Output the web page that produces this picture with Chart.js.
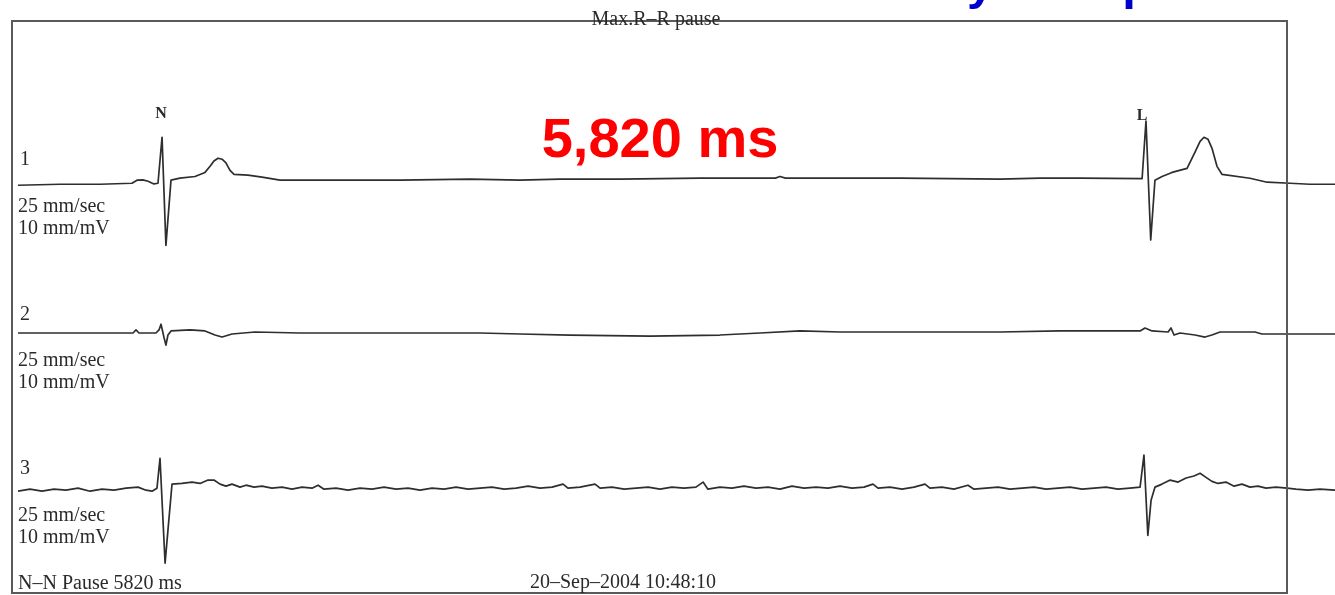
<!DOCTYPE html>
<html>
<head>
<meta charset="utf-8">
<title>Max R-R pause</title>
<script src="https://cdn.jsdelivr.net/npm/chart.js@4/dist/chart.umd.min.js"></script>
<style>
    html, body { margin: 0; padding: 0; background: #fff; overflow: hidden; }
    #wrap { width: 1335px; height: 595px; position: relative; }
</style>
</head>
<body>
<div id="wrap"><canvas id="ecgChart" width="1335" height="595"></canvas></div>
<script>
// Strip settings (25 mm/sec, 10 mm/mV)
const STRIP_MS = 7790;          // time span shown across the strip
const STRIP_MV = 8.8;           // vertical span of the strip in mV
const LEAD_OFFSETS = [6.09, 3.875, 1.55]; // baseline of each lead in mV from bottom
const PAUSE_MS = 5820;

// Lead 1: time (ms) and amplitude (mV)
const lead1Time = [0, 248, 485, 674, 704, 739, 769, 804, 828, 852, 875, 905, 958, 1047, 1106, 1136, 1159, 1183, 1207, 1230,
    1254, 1278, 1360, 1443, 1550, 1845, 2260, 2674, 2969, 3206, 3561, 4034, 4480, 4507, 4540, 4626, 5217, 5809, 6045, 6282,
    6649, 6672, 6700, 6725, 6767, 6826, 6870, 6915, 6962, 6992, 7015, 7039, 7062, 7092, 7122, 7287, 7388, 7524, 7642, 7790];
const lead1Mv = [-0.03, -0.015, -0.015, 0, 0.045, 0.05, 0.03, -0.01, 0, 0.68, -0.92, 0.045, 0.075, 0.1, 0.16, 0.25, 0.33, 0.37, 0.355, 0.3,
    0.19, 0.13, 0.12, 0.09, 0.045, 0.045, 0.045, 0.06, 0.045, 0.06, 0.06, 0.075, 0.075, 0.1, 0.075, 0.075, 0.075, 0.06, 0.075, 0.075,
    0.067, 0.92, -0.84, 0.045, 0.1, 0.16, 0.19, 0.22, 0.46, 0.62, 0.68, 0.65, 0.52, 0.25, 0.13, 0.074, 0.015, 0, -0.015, -0.015];

// Lead 2
const lead2Time = [0, 485, 680, 698, 716, 816, 834, 846, 864, 875, 887, 905, 1017, 1106, 1165, 1207, 1266, 1402, 1668, 2260,
    2733, 2969, 3265, 3738, 4152, 4389, 4626, 4862, 5217, 5809, 6163, 6400, 6637, 6666, 6708, 6803, 6820, 6838, 6873, 6962,
    7021, 7062, 7110, 7317, 7358, 7506, 7790];
const lead2Mv = [0, 0, 0, 0.045, 0, 0, 0.045, 0.13, -0.07, -0.18, -0.03, 0.03, 0.045, 0.03, -0.03, -0.06, -0.015, 0.015, 0, 0,
    0, -0.015, -0.03, -0.045, -0.03, 0, 0.03, 0.015, 0.015, 0.015, 0.03, 0.03, 0.03, 0.074, 0.03, 0.015, 0.074, -0.03, 0, -0.03,
    -0.06, -0.03, 0.015, 0.015, -0.015, -0.015, -0.015];

// Lead 3 (noisier baseline)
const lead3Time = [0, 71, 142, 213, 284, 355, 426, 497, 568, 639, 710, 757, 793, 822, 840, 870, 887, 911, 970, 1029,
    1077, 1124, 1159, 1195, 1230, 1266, 1313, 1349, 1396, 1443, 1502, 1562, 1621, 1680, 1739, 1775, 1810, 1881, 1952, 2023,
    2094, 2165, 2236, 2307, 2378, 2449, 2520, 2591, 2662, 2733, 2804, 2875, 2946, 3017, 3088, 3159, 3224, 3253, 3324, 3413,
    3443, 3514, 3585, 3656, 3727, 3797, 3868, 3939, 4010, 4052, 4081, 4152, 4223, 4294, 4365, 4436, 4507, 4578, 4649, 4720,
    4791, 4862, 4933, 5004, 5057, 5087, 5158, 5229, 5300, 5365, 5394, 5465, 5536, 5619, 5655, 5726, 5797, 5868, 5939, 6010,
    6081, 6152, 6223, 6294, 6365, 6436, 6506, 6577, 6637, 6660, 6683, 6702, 6725, 6767, 6815, 6862, 6909, 6956, 6992, 7027,
    7062, 7098, 7145, 7193, 7240, 7287, 7334, 7382, 7441, 7506, 7559, 7630, 7701, 7790];
const lead3Mv = [-0.015, 0.015, -0.015, 0.015, 0, 0.03, -0.015, 0.015, 0, 0.03, 0.045, 0, -0.015, 0.03, 0.47, -1.08, -0.59, 0.09, 0.1, 0.12,
    0.1, 0.15, 0.15, 0.09, 0.06, 0.09, 0.045, 0.074, 0.045, 0.06, 0.03, 0.045, 0.015, 0.045, 0.03, 0.074, 0.015, 0.03, 0, 0.03,
    0.015, 0.045, 0.015, 0.03, 0, 0.03, 0.015, 0.045, 0.015, 0.03, 0.045, 0.015, 0.03, 0.06, 0.03, 0.045, 0.09, 0.03, 0.045, 0.09,
    0.03, 0.045, 0.015, 0.03, 0.045, 0.015, 0.045, 0.03, 0.045, 0.12, 0.015, 0.045, 0.03, 0.06, 0.03, 0.045, 0.015, 0.06, 0.03, 0.045,
    0.03, 0.06, 0.03, 0.045, 0.09, 0.03, 0.045, 0.015, 0.045, 0.09, 0.03, 0.045, 0.015, 0.074, 0.015, 0.03, 0.045, 0.015, 0.03, 0.045,
    0.015, 0.03, 0.045, 0.015, 0.03, 0.045, 0.015, 0.03, 0.045, 0.52, -0.67, -0.15, 0.045, 0.09, 0.15, 0.12, 0.18, 0.21, 0.25, 0.19,
    0.13, 0.1, 0.12, 0.06, 0.09, 0.045, 0.06, 0.03, 0.045, 0.03, 0.015, 0, 0.015, 0];

// Labels printed on the strip
const leadNames = ['1', '2', '3'];
const leadScale = ['25 mm/sec', '10 mm/mV'];
const beatLabels = ['N', 'L'];
const titleText = 'Max.R\u2013R pause';
const pauseText = 'N\u2013N Pause ' + PAUSE_MS + ' ms';
const dateText = '20\u2013Sep\u20132004 10:48:10';
const pauseBig = '5,820 ms';
const headingText = 'Holter: asystole pause';

function leadPoints(times, values, offset) {
    return times.map((t, i) => ({ x: t, y: offset + values[i] }));
}

function traceDataset(times, values, offset) {
    return {
        data: leadPoints(times, values, offset),
        showLine: true,
        borderColor: '#2e2e2e',
        borderWidth: 1.7,
        borderJoinStyle: 'round',
        pointRadius: 0,
        tension: 0,
        fill: false
    };
}

// Frame, lead captions and the annotations
const stripText = {
    id: 'stripText',
    afterDraw(chart) {
        const ctx = chart.ctx;
        ctx.save();

        // paper frame
        ctx.strokeStyle = '#5a5a5a';
        ctx.lineWidth = 2;
        ctx.strokeRect(12, 21, 1275, 572);

        const serif = '"Liberation Serif", "DejaVu Serif", serif';
        ctx.fillStyle = '#2a2a2a';
        ctx.textBaseline = 'alphabetic';
        ctx.textAlign = 'left';

        const nameY = [165, 320, 474];
        const scaleY = [[212, 234], [366, 388], [521, 543]];
        ctx.font = '20px ' + serif;
        leadNames.forEach((name, i) => {
            ctx.fillText(name, 20, nameY[i]);
            ctx.fillText(leadScale[0], 18, scaleY[i][0]);
            ctx.fillText(leadScale[1], 18, scaleY[i][1]);
        });

        ctx.fillText(pauseText, 18, 589);
        ctx.fillText(dateText, 530, 588);
        ctx.textAlign = 'center';
        ctx.fillText(titleText, 656, 25);

        // beat labels above lead 1
        const xs = chart.scales.x;
        ctx.font = 'bold 16px ' + serif;
        ctx.fillText(beatLabels[0], xs.getPixelForValue(852) - 1, 118);
        ctx.fillText(beatLabels[1], xs.getPixelForValue(6672) - 4, 120);

        // pause duration
        ctx.font = 'bold 56px "Liberation Sans", Arial, sans-serif';
        ctx.fillStyle = '#ff0000';
        ctx.fillText(pauseBig, 660, 157);

        // heading running off the top edge
        ctx.font = 'bold 49px "Liberation Sans", Arial, sans-serif';
        ctx.fillStyle = '#0000cc';
        ctx.textAlign = 'left';
        const prefix = 'Holter: as';
        const x0 = 967 - ctx.measureText(prefix).width;
        ctx.fillText(headingText, x0, -1);

        ctx.restore();
    }
};

function initializeChart() {
    const ctx = document.getElementById('ecgChart').getContext('2d');
    return new Chart(ctx, {
        type: 'scatter',
        data: {
            datasets: [
                traceDataset(lead1Time, lead1Mv, LEAD_OFFSETS[0]),
                traceDataset(lead2Time, lead2Mv, LEAD_OFFSETS[1]),
                traceDataset(lead3Time, lead3Mv, LEAD_OFFSETS[2])
            ]
        },
        options: {
            responsive: false,
            animation: false,
            devicePixelRatio: 1,
            layout: { padding: { left: 18, right: 0, top: 0, bottom: 0 } },
            scales: {
                x: { type: 'linear', min: 0, max: STRIP_MS, display: false },
                y: { min: 0, max: STRIP_MV, display: false }
            },
            plugins: {
                legend: { display: false },
                tooltip: { enabled: false }
            }
        },
        plugins: [stripText]
    });
}

initializeChart();
</script>
</body>
</html>
